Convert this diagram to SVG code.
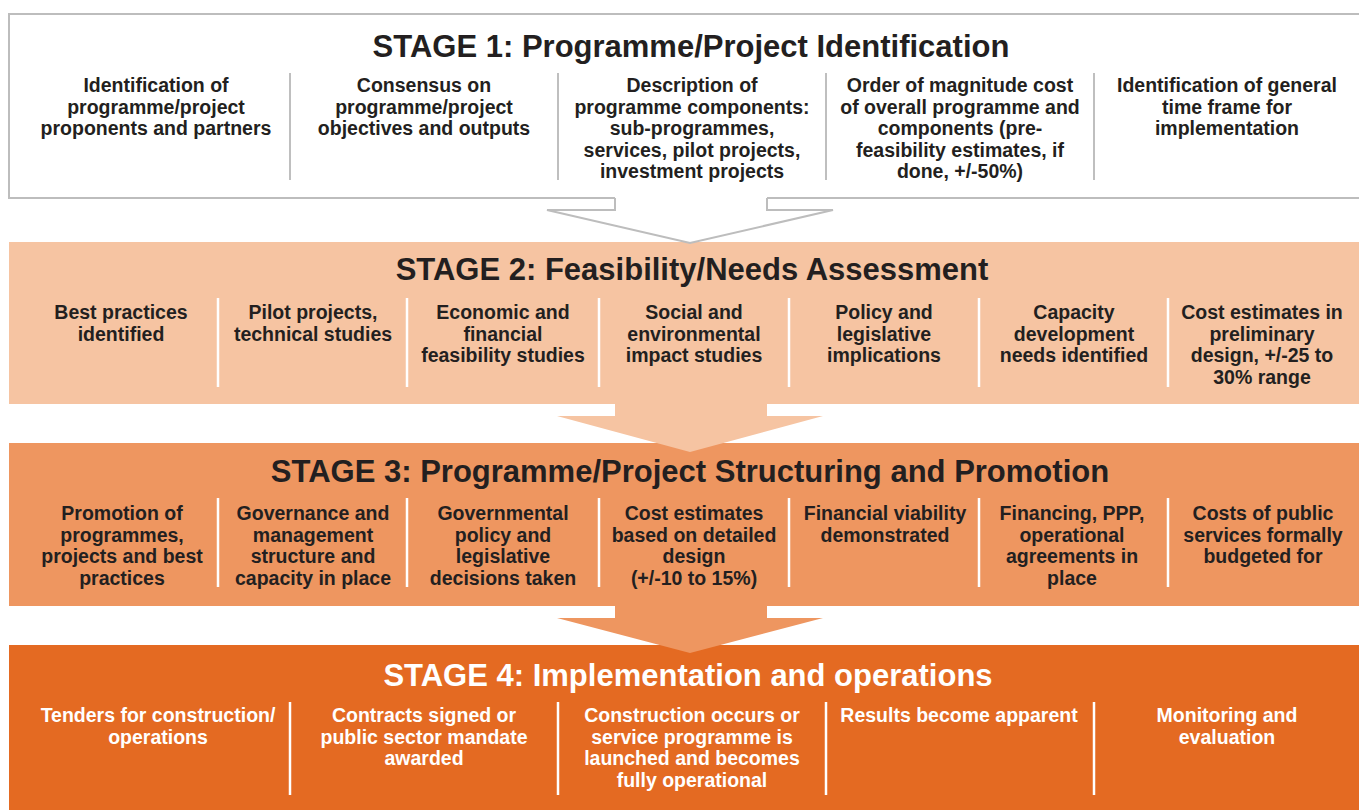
<svg xmlns="http://www.w3.org/2000/svg" width="1359" height="810" viewBox="0 0 1359 810">
<style>
text{font-family:"Liberation Sans",Arial,Helvetica,sans-serif;font-weight:bold;text-anchor:middle}
.t{font-size:31px;fill:#231f20}
.b{font-size:19.5px;fill:#231f20}
.w{fill:#ffffff}
.dg{stroke:#bfbfbf;stroke-width:2}
.dw{stroke:#ffffff;stroke-width:2.5}
</style>
<rect width="1359" height="810" fill="#ffffff"/>
<g id="stage1">
<rect x="9" y="14" width="1362" height="184" fill="#ffffff" stroke="#bdbdbd" stroke-width="2"/>
<text class="t" x="691" y="57">STAGE 1: Programme/Project Identification</text>
<line class="dg" x1="290" y1="73" x2="290" y2="180"/>
<line class="dg" x1="558" y1="73" x2="558" y2="180"/>
<line class="dg" x1="826" y1="73" x2="826" y2="180"/>
<line class="dg" x1="1094" y1="73" x2="1094" y2="180"/>
<text class="b" x="156" y="92">Identification of<tspan x="156" dy="21.5">programme/project</tspan><tspan x="156" dy="21.5">proponents and partners</tspan></text>
<text class="b" x="424" y="92">Consensus on<tspan x="424" dy="21.5">programme/project</tspan><tspan x="424" dy="21.5">objectives and outputs</tspan></text>
<text class="b" x="692" y="92">Description of<tspan x="692" dy="21.5">programme components:</tspan><tspan x="692" dy="21.5">sub-programmes,</tspan><tspan x="692" dy="21.5">services, pilot projects,</tspan><tspan x="692" dy="21.5">investment projects</tspan></text>
<text class="b" x="960" y="92">Order of magnitude cost<tspan x="960" dy="21.5">of overall programme and</tspan><tspan x="960" dy="21.5">components (pre-</tspan><tspan x="960" dy="21.5">feasibility estimates, if</tspan><tspan x="960" dy="21.5">done, +/-50%)</tspan></text>
<text class="b" x="1227" y="92">Identification of general<tspan x="1227" dy="21.5">time frame for</tspan><tspan x="1227" dy="21.5">implementation</tspan></text>
</g>
<g id="stage2">
<rect x="9" y="242" width="1350" height="162" fill="#f6c4a2"/>
<text class="t" x="692" y="280">STAGE 2: Feasibility/Needs Assessment</text>
<line class="dw" x1="218" y1="298" x2="218" y2="387"/>
<line class="dw" x1="407" y1="298" x2="407" y2="387"/>
<line class="dw" x1="599" y1="298" x2="599" y2="387"/>
<line class="dw" x1="789" y1="298" x2="789" y2="387"/>
<line class="dw" x1="979" y1="298" x2="979" y2="387"/>
<line class="dw" x1="1168" y1="298" x2="1168" y2="387"/>
<text class="b" x="121" y="319">Best practices<tspan x="121" dy="21.5">identified</tspan></text>
<text class="b" x="313" y="319">Pilot projects,<tspan x="313" dy="21.5">technical studies</tspan></text>
<text class="b" x="503" y="319">Economic and<tspan x="503" dy="21.5">financial</tspan><tspan x="503" dy="21.5">feasibility studies</tspan></text>
<text class="b" x="694" y="319">Social and<tspan x="694" dy="21.5">environmental</tspan><tspan x="694" dy="21.5">impact studies</tspan></text>
<text class="b" x="884" y="319">Policy and<tspan x="884" dy="21.5">legislative</tspan><tspan x="884" dy="21.5">implications</tspan></text>
<text class="b" x="1074" y="319">Capacity<tspan x="1074" dy="21.5">development</tspan><tspan x="1074" dy="21.5">needs identified</tspan></text>
<text class="b" x="1262" y="319">Cost estimates in<tspan x="1262" dy="21.5">preliminary</tspan><tspan x="1262" dy="21.5">design, +/-25 to</tspan><tspan x="1262" dy="21.5">30% range</tspan></text>
</g>
<g id="stage3">
<rect x="9" y="443" width="1350" height="163" fill="#ee9660"/>
<text class="t" x="690" y="482">STAGE 3: Programme/Project Structuring and Promotion</text>
<line class="dw" x1="218" y1="498" x2="218" y2="587"/>
<line class="dw" x1="407" y1="498" x2="407" y2="587"/>
<line class="dw" x1="599" y1="498" x2="599" y2="587"/>
<line class="dw" x1="789" y1="498" x2="789" y2="587"/>
<line class="dw" x1="979" y1="498" x2="979" y2="587"/>
<line class="dw" x1="1168" y1="498" x2="1168" y2="587"/>
<text class="b" x="122" y="520">Promotion of<tspan x="122" dy="21.5">programmes,</tspan><tspan x="122" dy="21.5">projects and best</tspan><tspan x="122" dy="21.5">practices</tspan></text>
<text class="b" x="313" y="520">Governance and<tspan x="313" dy="21.5">management</tspan><tspan x="313" dy="21.5">structure and</tspan><tspan x="313" dy="21.5">capacity in place</tspan></text>
<text class="b" x="503" y="520">Governmental<tspan x="503" dy="21.5">policy and</tspan><tspan x="503" dy="21.5">legislative</tspan><tspan x="503" dy="21.5">decisions taken</tspan></text>
<text class="b" x="694" y="520">Cost estimates<tspan x="694" dy="21.5">based on detailed</tspan><tspan x="694" dy="21.5">design</tspan><tspan x="694" dy="21.5">(+/-10 to 15%)</tspan></text>
<text class="b" x="885" y="520">Financial viability<tspan x="885" dy="21.5">demonstrated</tspan></text>
<text class="b" x="1072" y="520">Financing, PPP,<tspan x="1072" dy="21.5">operational</tspan><tspan x="1072" dy="21.5">agreements in</tspan><tspan x="1072" dy="21.5">place</tspan></text>
<text class="b" x="1263" y="520">Costs of public<tspan x="1263" dy="21.5">services formally</tspan><tspan x="1263" dy="21.5">budgeted for</tspan></text>
</g>
<g id="stage4">
<rect x="9" y="645" width="1350" height="165" fill="#e46a22"/>
<text class="t w" x="688" y="686">STAGE 4: Implementation and operations</text>
<line class="dw" x1="290" y1="702" x2="290" y2="795"/>
<line class="dw" x1="558" y1="702" x2="558" y2="795"/>
<line class="dw" x1="826" y1="702" x2="826" y2="795"/>
<line class="dw" x1="1094" y1="702" x2="1094" y2="795"/>
<text class="b w" x="158" y="722">Tenders for construction/<tspan x="158" dy="21.5">operations</tspan></text>
<text class="b w" x="424" y="722">Contracts signed or<tspan x="424" dy="21.5">public sector mandate</tspan><tspan x="424" dy="21.5">awarded</tspan></text>
<text class="b w" x="692" y="722">Construction occurs or<tspan x="692" dy="21.5">service programme is</tspan><tspan x="692" dy="21.5">launched and becomes</tspan><tspan x="692" dy="21.5">fully operational</tspan></text>
<text class="b w" x="959" y="722">Results become apparent</text>
<text class="b w" x="1227" y="722">Monitoring and<tspan x="1227" dy="21.5">evaluation</tspan></text>
</g>
<g id="connectors">
<polygon points="615,196 615,210 547,210 690,243 833,210 767,210 767,196" fill="#ffffff"/>
<polyline points="615,198 615,210 547,210 690,243 833,210 767,210 767,198" fill="none" stroke="#bdbdbd" stroke-width="2" stroke-linejoin="miter"/>
<polygon points="615,403 615,416 557,416 690,452 823,416 767,416 767,403" fill="#f6c4a2"/>
<polygon points="615,605 615,618 557,618 690,653 823,618 767,618 767,605" fill="#ee9660"/>
</g>
</svg>
